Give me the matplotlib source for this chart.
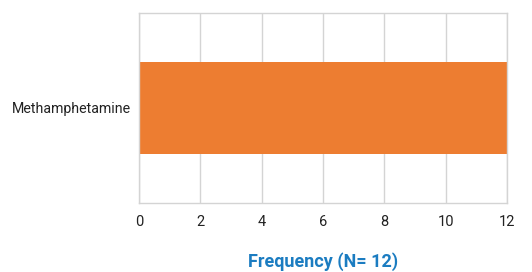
import matplotlib
matplotlib.use('Agg')
import matplotlib.pyplot as plt

# data
categories = ['Methamphetamine']
counts = [12]
xticks = [0, 2, 4, 6, 8, 10, 12]

plt.rcParams['font.family'] = ['Roboto', 'DejaVu Sans']

fig = plt.figure(figsize=(5.32, 2.72), dpi=100)
ax = fig.add_axes([139/532, 1 - 203/272, (507-139)/532, (203-13)/272])

ax.barh(categories, counts, height=0.48, color='#ed7d31', zorder=2)
ax.set_xlim(0, 12)
ax.set_ylim(-0.5, 0.5)
ax.set_xticks(xticks)
ax.grid(axis='x', color='#d4d4d4', linewidth=1, zorder=0)
for s in ax.spines.values():
    s.set_color('#d4d4d4')
    s.set_linewidth(1)
ax.tick_params(length=0, labelsize=10.5, colors='#222222')
ax.tick_params(axis='x', pad=9)
ax.tick_params(axis='y', pad=5.5, labelsize=10.2)
ax.set_xlabel('Frequency (N= 12)', fontsize=13, fontweight='bold', color='#1b7cc1', labelpad=16.5)

fig.savefig('out.png', dpi=100)
